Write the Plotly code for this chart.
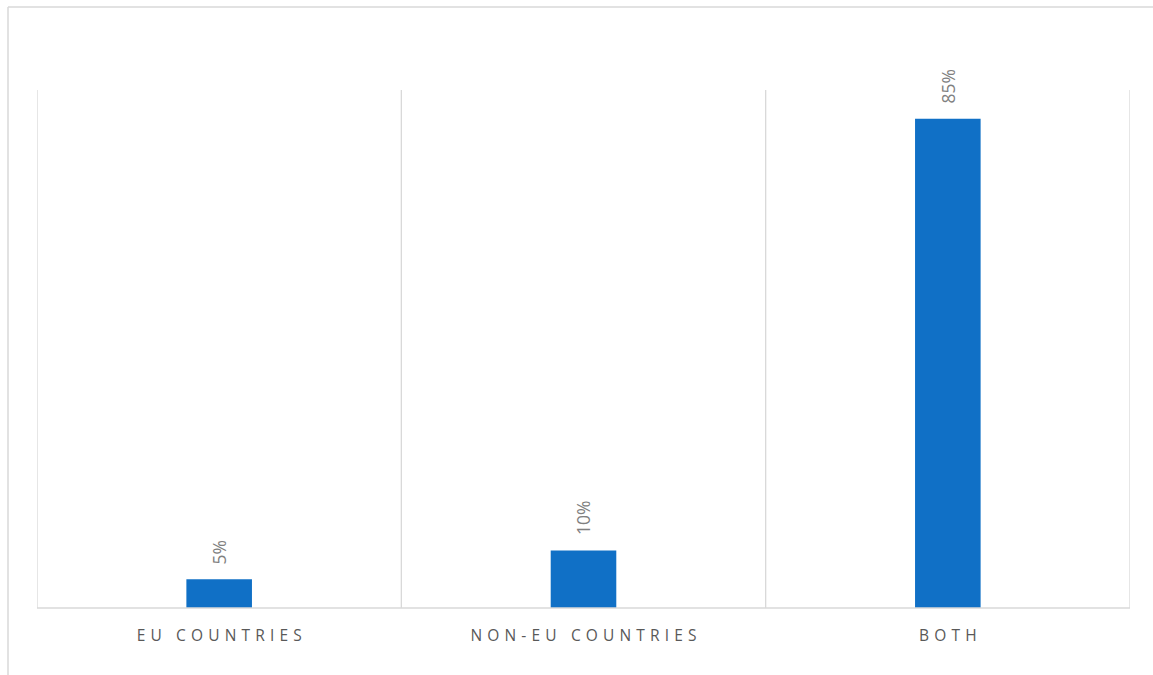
import plotly.graph_objects as go

categories = ["EU COUNTRIES", "NON-EU COUNTRIES", "BOTH"]
values = [0.05, 0.10, 0.85]
value_labels = ["5%", "10%", "85%"]

W, H = 1153, 675
L, R, T, B = 37, 1130, 90, 608
pw, ph = R - L, B - T

def spaced(s):
    return "\u2004".join(list(s))

xpos = list(range(len(categories)))

fig = go.Figure()
fig.add_trace(go.Bar(
    x=xpos, y=values, width=0.18,
    marker=dict(color="#1070C6", line=dict(width=0)),
    hoverinfo="skip",
))

# data labels
for xi, v, t in zip(xpos, values, value_labels):
    fig.add_annotation(x=xi, y=v, text=t, showarrow=False, textangle=-90,
                       xanchor="center", yanchor="bottom", yshift=13,
                       font=dict(family="Open Sans", size=17.5, color="#808080"))

shapes = []
# category separators
for b in [-0.5, 0.5, 1.5, 2.5]:
    shapes.append(dict(type="line", xref="x", yref="paper", x0=b, x1=b, y0=0, y1=1,
                       line=dict(color="#d9d9d9", width=1.3)))
# baseline
shapes.append(dict(type="line", xref="paper", yref="paper", x0=0, x1=1, y0=0, y1=0,
                   line=dict(color="#d9d9d9", width=1.3)))
# outer border (left + top)
bx = (8 - L) / pw
by_top = (B - 7) / ph
shapes.append(dict(type="line", xref="paper", yref="paper", x0=bx, x1=bx, y0=by_top, y1=(B - 680) / ph,
                   line=dict(color="#d9d9d9", width=1.5)))
shapes.append(dict(type="line", xref="paper", yref="paper", x0=bx, x1=(1160 - L) / pw, y0=by_top, y1=by_top,
                   line=dict(color="#d9d9d9", width=1.5)))

fig.update_layout(
    width=W, height=H,
    margin=dict(l=L, r=W - R, t=T, b=H - B, pad=0),
    paper_bgcolor="white", plot_bgcolor="white",
    showlegend=False,
    shapes=shapes,
    xaxis=dict(range=[-0.5, 2.5], tickvals=xpos, ticktext=[spaced(c) for c in categories],
               showgrid=False, zeroline=False, showline=False,
               ticks="outside", ticklen=13, tickcolor="rgba(0,0,0,0)",
               tickfont=dict(family="Open Sans", size=15.5, color="#595959"), fixedrange=True),
    yaxis=dict(range=[0, 0.9], showgrid=False, zeroline=False, showline=False,
               showticklabels=False, fixedrange=True),
)

fig.write_html("out.html")
